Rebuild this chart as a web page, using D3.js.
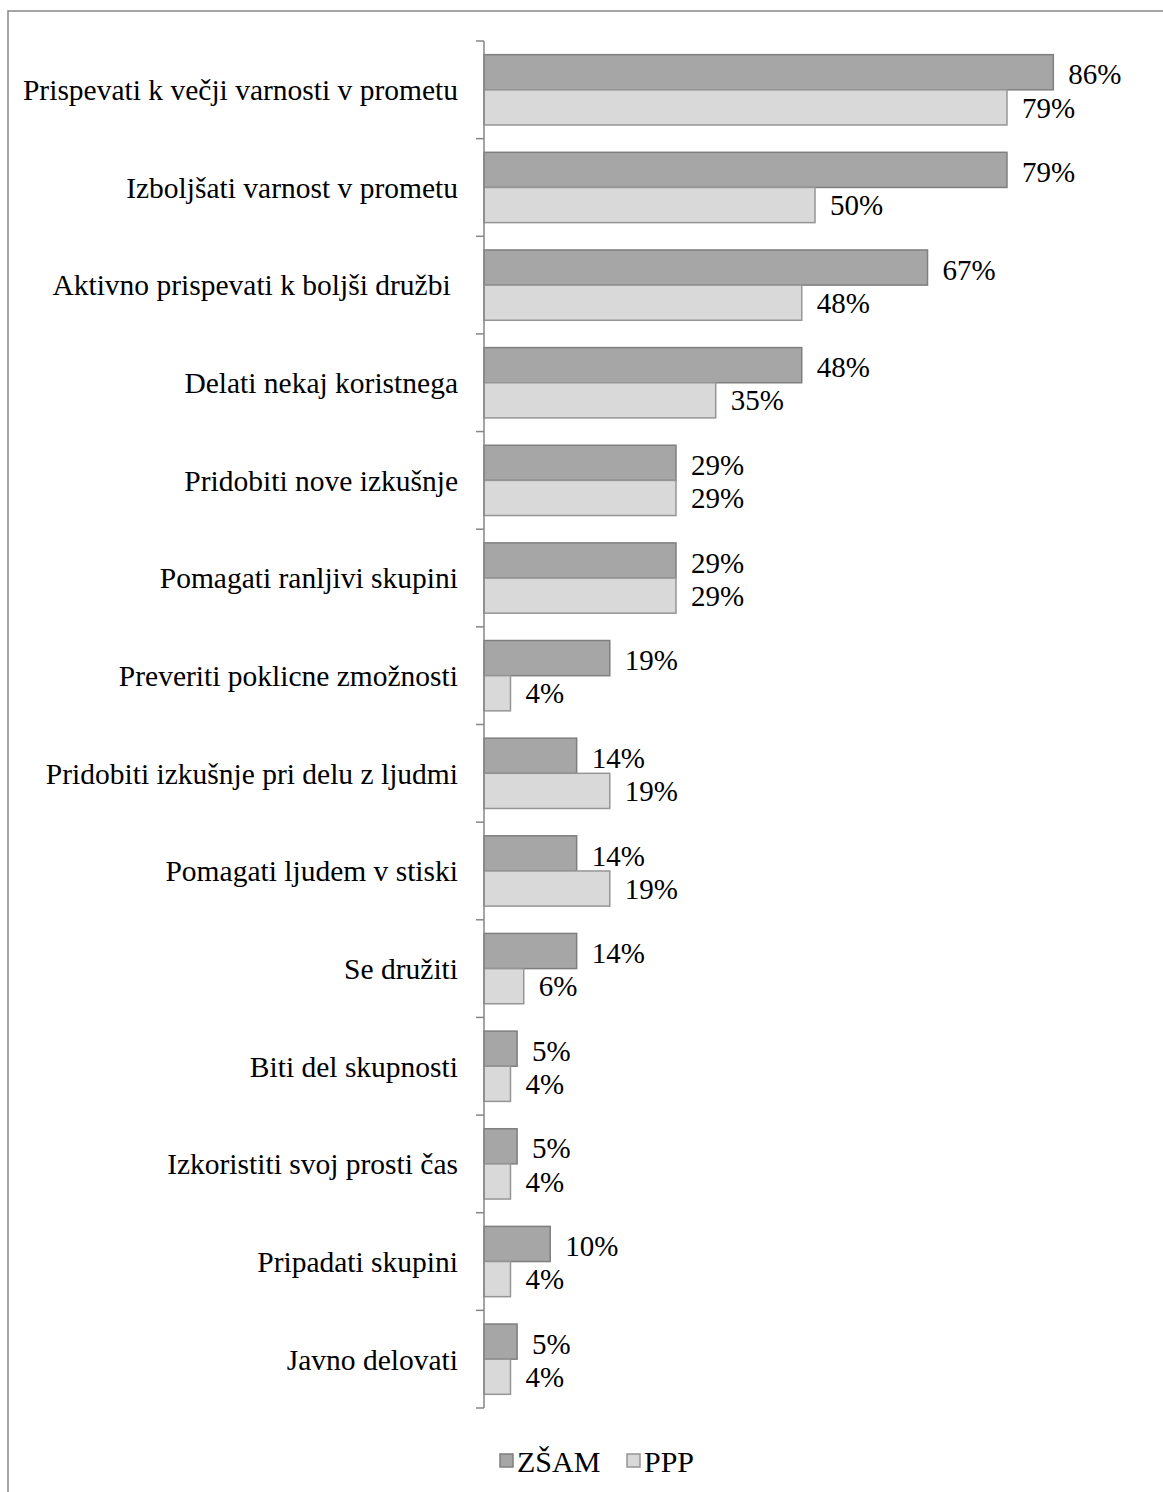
<!DOCTYPE html>
<html>
<head>
<meta charset="utf-8">
<script src="https://cdn.jsdelivr.net/npm/d3@7"></script>
<style>
  html, body { margin: 0; padding: 0; background: #fff; }
  text { font-family: "Liberation Serif", "Times New Roman", serif; }
</style>
</head>
<body>
<div id="chart"></div>
<script>
const categories = [
  "Prispevati k večji varnosti v prometu",
  "Izboljšati varnost v prometu",
  "Aktivno prispevati k boljši družbi ",
  "Delati nekaj koristnega",
  "Pridobiti nove izkušnje",
  "Pomagati ranljivi skupini",
  "Preveriti poklicne zmožnosti",
  "Pridobiti izkušnje pri delu z ljudmi",
  "Pomagati ljudem v stiski",
  "Se družiti",
  "Biti del skupnosti",
  "Izkoristiti svoj prosti čas",
  "Pripadati skupini",
  "Javno delovati"
]
const seriesNames = ["ZŠAM", "PPP"]
const zsam = [86, 79, 67, 48, 29, 29, 19, 14, 14, 14, 5, 5, 10, 5]
const ppp = [79, 50, 48, 35, 29, 29, 4, 19, 19, 6, 4, 4, 4, 4]

const width = 1163
const height = 1492
const fills = ["#a6a6a6", "#d9d9d9"]
const strokes = ["#7f7f7f", "#959595"]

const svg = d3.select("#chart")
  .append("svg")
  .attr("width", width)
  .attr("height", height)

// outer chart border (runs off right and bottom)
svg.append("rect")
  .attr("x", 8)
  .attr("y", 11)
  .attr("width", width)
  .attr("height", height)
  .attr("fill", "none")
  .attr("stroke", "#888")
  .attr("stroke-width", 1.5)

const x = d3.scaleLinear()
  .domain([0, 100])
  .range([484, 484 + 662])

const y = d3.scaleBand()
  .domain(categories)
  .range([41, 1408])
  .paddingInner(0.28)
  .paddingOuter(0.14)

const y1 = d3.scaleBand()
  .domain(seriesNames)
  .range([0, y.bandwidth()])

const rows = categories.map((c, i) => ({ cat: c, values: [zsam[i], ppp[i]] }))

const g = svg.append("g")

const groups = g.selectAll("g.row")
  .data(rows)
  .enter()
  .append("g")
  .attr("class", "row")
  .attr("transform", d => `translate(0,${y(d.cat)})`)

groups.selectAll("rect")
  .data(d => d.values.map((v, k) => ({ v, k })))
  .enter()
  .append("rect")
  .attr("x", x(0))
  .attr("y", d => y1(seriesNames[d.k]))
  .attr("width", d => x(d.v) - x(0))
  .attr("height", y1.bandwidth())
  .attr("fill", d => fills[d.k])
  .attr("stroke", d => strokes[d.k])
  .attr("stroke-width", 1.5)

groups.selectAll("text.val")
  .data(d => d.values.map((v, k) => ({ v, k })))
  .enter()
  .append("text")
  .attr("class", "val")
  .attr("x", d => x(d.v) + 15)
  .attr("y", d => y1(seriesNames[d.k]) + y1.bandwidth() / 2 + (d.k === 0 ? 2 : 0))
  .attr("dy", "0.35em")
  .attr("font-size", 29)
  .attr("fill", "#000")
  .text(d => d.v + "%")

// category axis with outer ticks between bands
const axisG = svg.append("g")
const ax = x(0)
const bounds = categories.map(c => y(c) - y.step() * y.paddingInner() / 2)
bounds.push(1408)

axisG.append("line")
  .attr("x1", ax).attr("x2", ax)
  .attr("y1", bounds[0]).attr("y2", 1408)
  .attr("stroke", "#868686")
  .attr("stroke-width", 1.5)

axisG.selectAll("line.tick")
  .data(bounds)
  .enter()
  .append("line")
  .attr("class", "tick")
  .attr("x1", ax - 8).attr("x2", ax)
  .attr("y1", d => d).attr("y2", d => d)
  .attr("stroke", "#868686")
  .attr("stroke-width", 1.5)

axisG.selectAll("text.cat")
  .data(categories)
  .enter()
  .append("text")
  .attr("class", "cat")
  .attr("x", ax - 26)
  .attr("y", d => y(d) + y.bandwidth() / 2)
  .attr("dy", "0.35em")
  .attr("text-anchor", "end")
  .attr("font-size", 29.5)
  .style("white-space", "pre")
  .text(d => d)

// legend
const legend = svg.append("g")
const legendX = [500, 627]
seriesNames.forEach((s, k) => {
  legend.append("rect")
    .attr("x", legendX[k])
    .attr("y", 1454)
    .attr("width", 13)
    .attr("height", 13)
    .attr("fill", fills[k])
    .attr("stroke", strokes[k])
    .attr("stroke-width", 1.5)
  legend.append("text")
    .attr("x", legendX[k] + 17)
    .attr("y", 1461)
    .attr("dy", "0.35em")
    .attr("font-size", 30)
    .text(s)
})
</script>
</body>
</html>
